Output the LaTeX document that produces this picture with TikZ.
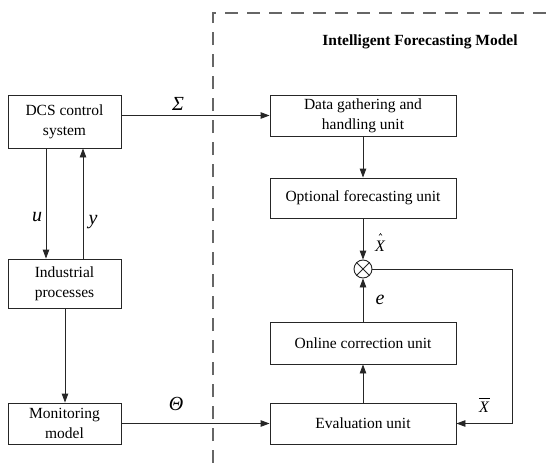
\documentclass[tikz,border=0pt]{standalone}
\usepackage{fontspec}
\setmainfont{Liberation Serif}
\usetikzlibrary{arrows.meta}
\tikzset{
  box/.style={draw=black!85, line width=0.9pt, align=center, inner sep=0pt,
    font=\fontsize{15.5}{20}\selectfont},
  arr/.style={draw=black!85, line width=0.9pt, -{Triangle[length=9pt,width=6.5pt]}},
  ln/.style={draw=black!85, line width=0.9pt},
  lab/.style={inner sep=0pt, font=\fontsize{20}{20}\selectfont\itshape},
  frame/.style={draw=black!60, line width=1.3pt, dash pattern=on 13pt off 9pt},
}
\begin{document}
\begin{tikzpicture}[x=1pt,y=-1pt]
\useasboundingbox (0,0) rectangle (547,463);
\fill[white] (0,0) rectangle (547,463);
% dashed frame
\coordinate (fb) at (213,463);
\coordinate (fc) at (213,13);
\coordinate (fr) at (547,13);
\draw[frame] (fb) -- (fc) -- (fr);
\node[font=\fontsize{15.5}{18}\selectfont\bfseries] (title) at (420,42) {Intelligent Forecasting Model};
% left column
\node[box, minimum width=113pt, minimum height=53pt] (dcs) at (64.5,121.5) {DCS control\\system};
\node[box, minimum width=113pt, minimum height=49pt] (ind) at (64.5,283.5) {Industrial\\processes};
\node[box, minimum width=113pt, minimum height=41pt] (mon) at (64.5,423.5) {Monitoring\\model};
% right column
\node[box, minimum width=186pt, minimum height=41pt] (data) at (363,115.5) {Data gathering and\\handling unit};
\node[box, minimum width=186pt, minimum height=40pt] (opt) at (363,198) {Optional forecasting unit};
\node[draw=black!85, line width=0.9pt, circle, minimum size=18pt, inner sep=0pt] (sum) at (363,269) {};
\draw[ln] (sum.45) -- (sum.225) (sum.135) -- (sum.315);
\node[box, minimum width=186pt, minimum height=42pt] (onl) at (363,343) {Online correction unit};
\node[box, minimum width=186pt, minimum height=41pt] (eval) at (363,423.5) {Evaluation unit};
% connectors
\draw[arr] (data.west -| dcs.east) -- (data.west);
\draw[arr] (mon.east) -- (eval.west);
\draw[arr] ([xshift=-18.5pt]dcs.south) -- ([xshift=-18.5pt]ind.north);
\draw[arr] ([xshift=18.5pt]ind.north) -- ([xshift=18.5pt]dcs.south);
\draw[arr] ([xshift=0.5pt]ind.south) -- ([xshift=0.5pt]mon.north);
\draw[arr] (data.south) -- (opt.north);
\draw[arr] (opt.south) -- (sum.north);
\draw[arr] (onl.north) -- (sum.south);
\draw[arr] (eval.north) -- (onl.south);
\coordinate (fbr) at (512,269);
\draw[arr] (sum.east) -- (fbr) |- (eval.east);
% labels
\node[lab, font=\fontsize{20}{20}\selectfont\itshape] (lsig) at (178,104) {Σ};
\node[lab, font=\fontsize{20}{20}\selectfont\itshape] (lth) at (176,404) {Θ};
\node[lab] (lu) at (37,217) {u};
\node[lab] (ly) at (93,222) {y};
\node[lab] (le) at (380,300) {e};
\node[lab, font=\fontsize{16}{16}\selectfont\itshape] (lxh) at (380,246) {X};
\draw[line width=0.5pt] ([xshift=-1pt,yshift=5pt]lxh.north) -- ([xshift=0.5pt,yshift=7pt]lxh.north) -- ([xshift=2pt,yshift=5pt]lxh.north);
\node[lab, font=\fontsize{16}{16}\selectfont\itshape] (lxb) at (484,407) {X};
\draw[line width=0.7pt] ([yshift=3pt]lxb.north west) -- ([xshift=1pt,yshift=3pt]lxb.north east);
\end{tikzpicture}
\end{document}
